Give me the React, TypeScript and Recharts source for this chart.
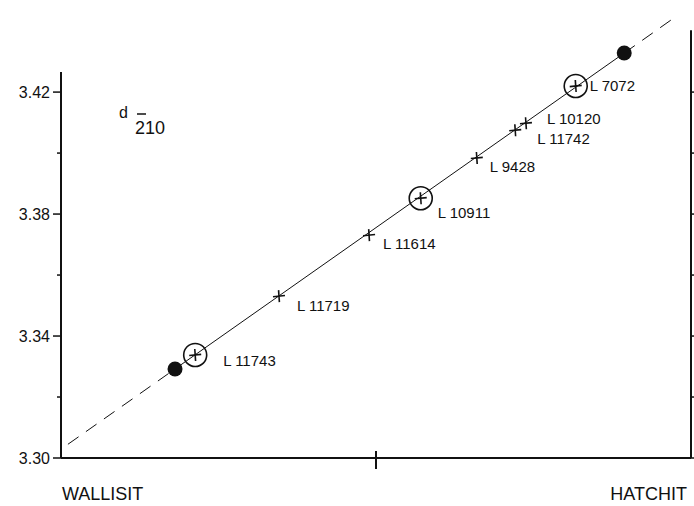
import { ComposedChart, Line, ReferenceLine, Scatter, XAxis, YAxis } from "recharts";

// samples along the wallisite – hatchite join
const samples = ["L 11743", "L 11719", "L 11614", "L 10911", "L 9428", "L 11742", "L 10120", "L 7072"];
const sampleX = [0.213, 0.346, 0.489, 0.571, 0.66, 0.721, 0.738, 0.817];
const sampleD = [3.3338, 3.3531, 3.3731, 3.3852, 3.3984, 3.4075, 3.4098, 3.422];
const circled = ["L 11743", "L 10911", "L 7072"];

// end members (filled dots)
const endX = [0.181, 0.894];
const endD = [3.3292, 3.4328];

// extrapolated ends of the trend line
const extX = [0.011, 0.979];
const extD = [3.3045, 3.4452];

const yTicks = [3.3, 3.32, 3.34, 3.36, 3.38, 3.4, 3.42];
const yLabelled = ["3.30", "3.34", "3.38", "3.42"];
const xTicks = [0, 0.5, 1];
const xNames = ["WALLISIT", "", "HATCHIT"];

const leftAxisTop = 3.4266;
const rightAxisTop = 3.4403;

const sampleData = samples.map((name, i) => ({ name, x: sampleX[i], d: sampleD[i] }));
const endData = endX.map((x, i) => ({ x, d: endD[i] }));
const solidData = endData;
const dashLeft = [{ x: extX[0], d: extD[0] }, endData[0]];
const dashRight = [endData[1], { x: extX[1], d: extD[1] }];

// label placement next to each marker
const labelNudge: Record<string, [number, number]> = {
  "L 11743": [28, 6],
  "L 11719": [18, 9],
  "L 11614": [14, 8],
  "L 10911": [17, 14],
  "L 9428": [13, 9],
  "L 11742": [22, 8],
  "L 10120": [21, -5],
  "L 7072": [14, 0],
};

const font = "'Liberation Sans', Arial, sans-serif";
const ink = "#111";

function SampleMark(props: any) {
  const { cx, cy, payload } = props;
  const [dx, dy] = labelNudge[payload.name] ?? [15, 8];
  return (
    <g>
      {circled.includes(payload.name) && (
        <circle cx={cx} cy={cy} r={11.5} fill="#fff" fillOpacity={0} stroke={ink} strokeWidth={1.6} />
      )}
      <line x1={cx - 6} y1={cy + 0.6} x2={cx + 6} y2={cy - 0.6} stroke={ink} strokeWidth={1.6} />
      <line x1={cx - 0.4} y1={cy - 6} x2={cx + 0.4} y2={cy + 6} stroke={ink} strokeWidth={1.6} />
      <text
        x={cx + dx}
        y={cy + dy}
        dominantBaseline="central"
        fontFamily={font}
        fontSize={15}
        fill={ink}
      >
        {payload.name}
      </text>
    </g>
  );
}

function EndDot(props: any) {
  const { cx, cy } = props;
  return <circle cx={cx} cy={cy} r={7.5} fill={ink} />;
}

function YTick(props: any) {
  const { x, y, payload } = props;
  const label = Number(payload.value).toFixed(2);
  const major = yLabelled.includes(label);
  return (
    <g>
      <line x1={x - (major ? 8 : 4)} y1={y} x2={x} y2={y} stroke={ink} strokeWidth={1.5} />
      {major && (
        <text x={x - 11} y={y} textAnchor="end" dominantBaseline="central" fontFamily={font} fontSize={16} fill={ink}>
          {label}
        </text>
      )}
    </g>
  );
}

function RightTick(props: any) {
  const { x, y } = props;
  return <line x1={x} y1={y} x2={x + 3} y2={y} stroke={ink} strokeWidth={1.5} />;
}

function XTick(props: any) {
  const { x, y, index } = props;
  const name = xNames[index];
  if (!name) {
    return <line x1={x} y1={y - 7} x2={x} y2={y + 11} stroke={ink} strokeWidth={2} />;
  }
  return (
    <text
      x={index === 0 ? x + 1 : x - 3}
      y={y + 42}
      textAnchor={index === 0 ? "start" : "end"}
      fontFamily={font}
      fontSize={18}
      fill={ink}
    >
      {name}
    </text>
  );
}

export default function App() {
  return (
    <div style={{ position: "absolute", left: 0, top: 0, width: 694, height: 506, background: "#fff" }}>
      <ComposedChart width={694} height={506} margin={{ top: 0, right: 0, bottom: 0, left: 0 }}>
        <XAxis
          dataKey="x"
          type="number"
          domain={[0, 1]}
          ticks={xTicks}
          tick={<XTick />}
          tickSize={0}
          tickMargin={0}
          height={48}
          axisLine={{ stroke: ink, strokeWidth: 2 }}
          tickLine={false}
          allowDataOverflow
        />
        <YAxis
          type="number"
          domain={[3.3, 3.4502]}
          ticks={yTicks}
          tick={<YTick />}
          tickSize={0}
          tickMargin={0}
          width={61}
          axisLine={false}
          tickLine={false}
          allowDataOverflow
        />
        <YAxis
          yAxisId="right"
          orientation="right"
          type="number"
          domain={[3.3, 3.4502]}
          ticks={yTicks}
          tick={<RightTick />}
          tickSize={0}
          tickMargin={0}
          width={3}
          axisLine={false}
          tickLine={false}
          allowDataOverflow
        />
        <ReferenceLine
          segment={[
            { x: 0, y: 3.3 },
            { x: 0, y: leftAxisTop },
          ]}
          stroke={ink}
          strokeWidth={2}
        />
        <ReferenceLine
          segment={[
            { x: 1, y: 3.3 },
            { x: 1, y: rightAxisTop },
          ]}
          stroke={ink}
          strokeWidth={2}
        />
        <Line data={dashLeft} dataKey="d" stroke={ink} strokeWidth={1} strokeDasharray="13 9" dot={false} isAnimationActive={false} />
        <Line data={solidData} dataKey="d" stroke={ink} strokeWidth={1} dot={false} isAnimationActive={false} />
        <Line data={dashRight} dataKey="d" stroke={ink} strokeWidth={1} strokeDasharray="13 9" dot={false} isAnimationActive={false} />
        <Scatter data={endData} dataKey="d" shape={<EndDot />} isAnimationActive={false} />
        <Scatter data={sampleData} dataKey="d" shape={<SampleMark />} isAnimationActive={false} />
      </ComposedChart>
      <svg width={694} height={506} style={{ position: "absolute", left: 0, top: 0, pointerEvents: "none" }}>
        <text x={119} y={118} fontFamily={font} fontSize={16} fill={ink}>
          d
        </text>
        <line x1={137} y1={114} x2={146} y2={114} stroke={ink} strokeWidth={1.5} />
        <text x={135} y={134} fontFamily={font} fontSize={18} fill={ink}>
          210
        </text>
      </svg>
    </div>
  );
}
